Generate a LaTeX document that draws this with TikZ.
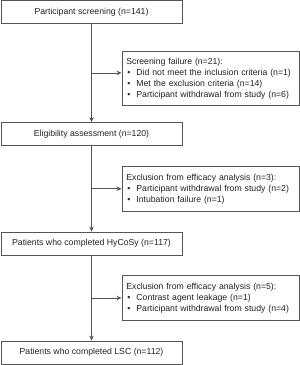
\documentclass[tikz,border=0pt]{standalone}
\usepackage{fontspec}
\setmainfont{Liberation Sans}
\usetikzlibrary{arrows.meta,calc}
\definecolor{linegray}{HTML}{555555}
\definecolor{textgray}{HTML}{222222}
\newcommand\bul{\hspace*{2.5pt}\textbullet\hspace{6pt}}
\begin{document}
\begin{tikzpicture}[x=1pt,y=-1pt,
  font=\fontsize{8.7}{11}\selectfont, text=textgray,
  mainbox/.style={draw=linegray, line width=0.7pt, minimum width=181pt, minimum height=23pt, inner sep=0pt},
  sidebox/.style={draw=linegray, line width=0.7pt, align=left, anchor=west, minimum width=177pt, text width=171pt, inner xsep=3pt, inner ysep=6.5pt},
  flow/.style={draw=linegray, line width=0.7pt, -{Stealth[length=5pt,width=4.5pt]}}]
\useasboundingbox (0,0) rectangle (300,365);
\node[mainbox] (b1) at (91.5,11.8) {Participant screening (n=141)};
\node[mainbox] (b2) at (91.5,134) {Eligibility assessment (n=120)};
\node[mainbox] (b3) at (91.5,243.5) {Patients who completed HyCoSy (n=117)};
\node[mainbox] (b4) at (91.5,352.5) {Patients who completed LSC (n=112)};
\coordinate (j1) at ($(b1.south)!0.5!(b2.north)$);
\coordinate (j2) at ($(b2.south)!0.5!(b3.north)$);
\coordinate (j3) at ($(b3.south)!0.5!(b4.north)$);
\node[sidebox] (s1) at ($(121.5,0)+(0,0|-j1)+(0,5.5)$) {\hspace*{1.5pt}Screening failure (n=21):\\ \bul Did not meet the inclusion criteria (n=1)\\ \bul Met the exclusion criteria (n=14)\\ \bul Participant withdrawal from study (n=6)};
\node[sidebox, inner ysep=7.5pt] (s2) at ($(121.5,0)+(0,0|-j2)$) {\hspace*{1.5pt}Exclusion from efficacy analysis (n=3):\\ \bul Participant withdrawal from study (n=2)\\ \bul Intubation failure (n=1)};
\node[sidebox, inner ysep=7.5pt] (s3) at ($(121.5,0)+(0,0|-j3)$) {\hspace*{1.5pt}Exclusion from efficacy analysis (n=5):\\ \bul Contrast agent leakage (n=1)\\ \bul Participant withdrawal from study (n=4)};
\draw[flow] (b1.south) -- (b2.north);
\draw[flow] (b2.south) -- (b3.north);
\draw[flow] (b3.south) -- (b4.north);
\draw[flow] (j1) -- (j1 -| s1.west);
\draw[flow] (j2) -- (j2 -| s2.west);
\draw[flow] (j3) -- (j3 -| s3.west);
\end{tikzpicture}
\end{document}
